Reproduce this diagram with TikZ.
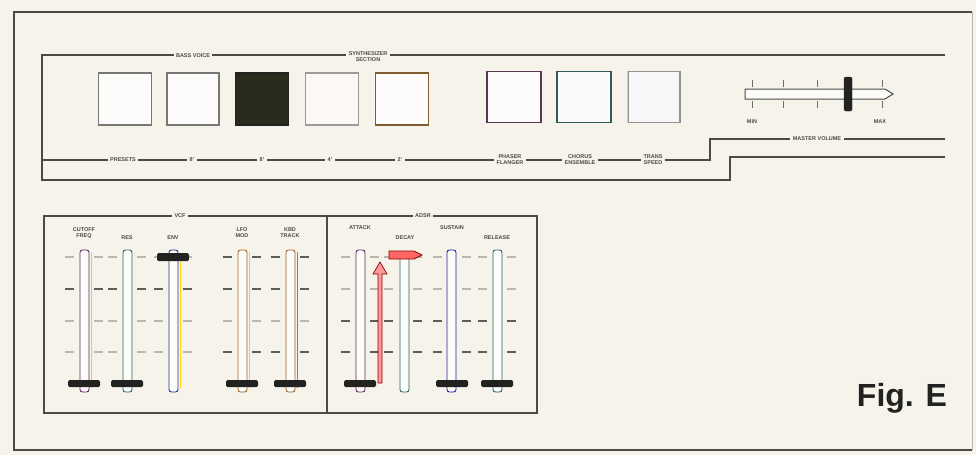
\documentclass[tikz,border=0pt]{standalone}
\usepackage{fontspec}
\setmainfont{Liberation Sans}
\definecolor{bgc}{HTML}{F6F4EA}
\definecolor{ink}{HTML}{4A4A46}
\definecolor{lite}{HTML}{B9B7AE}
\definecolor{knobc}{HTML}{222220}
\begin{document}
\begin{tikzpicture}[x=1pt,y=-1pt,
  panel/.style={draw=ink,line width=1.4pt},
  lbl/.style={font=\fontsize{5.5}{6}\selectfont\bfseries,text=ink,fill=bgc,inner xsep=2.5pt,inner ysep=0.5pt,align=center},
  btn/.style={draw=ink!75,line width=1.1pt,fill=white!75!bgc},
  knob/.style={fill=knobc,draw=knobc,rounded corners=1.5pt},
  slot/.style={line width=0.9pt,fill=white!70!bgc,rounded corners=2.5pt},
  darkdash/.style={draw=ink!90,line width=2.2pt},
  litedash/.style={draw=lite,line width=1.2pt}]
\useasboundingbox (0,0) rectangle (976,455);
\fill[bgc] (0,0) rectangle (976,455);
% outer frame
\draw[draw=ink,line width=1.6pt] (972,12) -- (14,12) -- (14,450) -- (972,450);
\draw[draw=lite,line width=0.8pt] (972,12) -- (972,450);

% ---------------- top panel ----------------
\draw[panel] (945,55) -- (42,55) -- (42,180) -- (730,180) -- (730,157) -- (945,157);
\draw[panel,line width=1.1pt] (42,160) -- (710,160) -- (710,139) -- (945,139);
\node[lbl] (bass) at (193,56) {BASS VOICE};
\node[lbl] (synth) at (368,57) {SYNTHESIZER\\SECTION};

% buttons
\node[btn,minimum width=53pt,minimum height=52pt] (b1) at (125,99) {};
\node[btn,minimum width=52pt,minimum height=52pt] (b2) at (193,99) {};
\node[btn,minimum width=53pt,minimum height=52pt,fill=knobc!90!olive,draw=knobc] (b3) at (262,99) {};
\node[btn,minimum width=53pt,minimum height=52pt,draw=ink!55,fill=red!2!white!75!bgc] (b4) at (332,99) {};
\node[btn,minimum width=53pt,minimum height=52pt,draw=ink!70!orange] (b5) at (402,99) {};
\node[btn,minimum width=54pt,minimum height=51pt,draw=ink!75!violet] (b6) at (514,97) {};
\node[btn,minimum width=54pt,minimum height=51pt,draw=ink!70!teal,fill=cyan!2!white!75!bgc] (b7) at (584,97) {};
\node[btn,minimum width=52pt,minimum height=51pt,draw=ink!60,fill=blue!3!white!75!bgc] (b8) at (654,97) {};
\draw[yellow!80!orange,line width=1.2pt] (b8.north west) -- (b8.south west);

% labels on lower line
\node[lbl] (presets) at (123,160) {PRESETS};
\node[lbl] (f1) at (192,160) {8'};
\node[lbl] (f2) at (262,160) {8'};
\node[lbl] (f3) at (330,160) {4'};
\node[lbl] (f4) at (400,160) {2'};
\node[lbl] (phaser) at (510,160) {PHASER\\FLANGER};
\node[lbl] (chorus) at (580,160) {CHORUS\\ENSEMBLE};
\node[lbl] (trans) at (653,160) {TRANS\\SPEED};
\node[lbl] (master) at (817,139) {MASTER VOLUME};

% master volume slider
\draw[draw=ink,line width=1pt,fill=white!60!bgc] (745,89) -- (885,89) -- (893,94) -- (885,99) -- (745,99) -- cycle;
\foreach \tx in {752,783,817,882}{
  \draw[draw=ink!80,line width=0.9pt] (\tx,80) -- (\tx,87);
  \draw[draw=ink!80,line width=0.9pt] (\tx,101) -- (\tx,108);
}
\node[knob,minimum width=8pt,minimum height=34pt,inner sep=0pt] (mvknob) at (848,94) {};
\node[lbl] (min) at (752,122) {MIN};
\node[lbl] (max) at (880,122) {MAX};

% ---------------- bottom panel ----------------
\draw[panel] (44,216) rectangle (537,413);
\draw[panel] (327,216) -- (327,413);
\node[lbl] (vcf) at (180,216) {VCF};
\node[lbl] (adsr) at (423,216) {ADSR};

% tick dashes: centre, dark rows
\foreach \c/\rows in {84/{289},127/{289},173/{289},242/{257,289,352},290/{257,289,352},360/{321,352},403/{321,352},452/{321,352},497/{321,352}}{
  \foreach \r in {257,289,321,352}{
    \draw[litedash] (\c-19,\r) -- (\c-10,\r);
    \draw[litedash] (\c+10,\r) -- (\c+19,\r);
  }
  \foreach \r in \rows{
    \draw[darkdash] (\c-19,\r) -- (\c-10,\r);
    \draw[darkdash] (\c+10,\r) -- (\c+19,\r);
  }
}

% slots
\draw[slot,draw=violet!50!ink] (80,250) rectangle (89,392);
\draw[yellow!70!orange,line width=0.8pt] (91,252) -- (91,388);
\draw[slot,draw=teal!50!ink] (123,250) rectangle (132,392);
\draw[slot,draw=blue!45!ink] (169,250) rectangle (178,392);
\draw[yellow!70!orange,line width=0.8pt] (180,262) -- (180,388);
\draw[slot,draw=orange!50!ink] (238,250) rectangle (247,392);
\draw[yellow!70!orange,line width=0.8pt] (249,252) -- (249,388);
\draw[slot,draw=orange!45!ink] (286,250) rectangle (295,392);
\draw[green!60!teal,line width=0.8pt] (297,252) -- (297,388);
\draw[slot,draw=violet!50!ink] (356,250) rectangle (365,392);
\draw[slot,draw=teal!45!ink] (400,255) rectangle (409,392);
\draw[slot,draw=blue!55!ink] (447,250) rectangle (456,392);
\draw[slot,draw=teal!55!ink] (493,250) rectangle (502,392);

% knobs
\foreach \c in {84,127,242,290,360,452,497}{
  \fill[knobc,rounded corners=1.5pt] (\c-16,380) rectangle (\c+16,387);
}
\fill[knobc,rounded corners=1.5pt] (157,253) rectangle (189,261);

% red arrows (attack up, decay knob)
\draw[draw=red!55!black,fill=red!40!white,line width=0.7pt]
  (378,383) -- (378,274) -- (373,274) -- (380,262) -- (387,274) -- (382,274) -- (382,383) -- cycle;
\draw[draw=red!55!black,fill=red!60!white,line width=0.7pt]
  (389,251) -- (414,251) -- (422,255) -- (414,259) -- (389,259) -- cycle;

% slider labels
\node[lbl] (s1) at (84,233) {CUTOFF\\FREQ};
\node[lbl] (s2) at (127,238) {RES};
\node[lbl] (s3) at (173,238) {ENV};
\node[lbl] (s4) at (242,233) {LFO\\MOD};
\node[lbl] (s5) at (290,233) {KBD\\TRACK};
\node[lbl] (a) at (360,228) {ATTACK};
\node[lbl] (d) at (405,238) {DECAY};
\node[lbl] (s) at (452,228) {SUSTAIN};
\node[lbl] (r) at (497,238) {RELEASE};

% caption
\node[font=\fontsize{32}{34}\selectfont\bfseries,text=knobc] (fig) at (902,398) {Fig. E};
\end{tikzpicture}
\end{document}
